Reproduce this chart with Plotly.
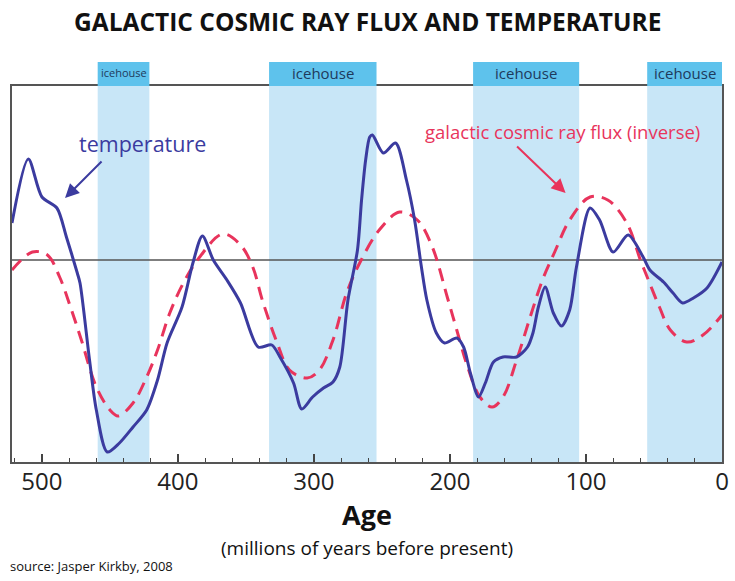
import plotly.graph_objects as go

# Age in millions of years before present; values in relative units (0 = reference line)
temp_age = [522, 510, 500, 489, 482, 474, 472, 465, 460, 452, 443, 433, 423, 415, 408, 397, 389, 382,
            374, 364, 354, 341, 331, 325, 315, 309, 301, 293, 286, 281, 275, 268, 265, 262, 259, 257,
            249, 240, 232, 226, 221, 217, 210, 204, 195, 190, 185, 179, 174, 168, 161, 151, 143, 139,
            135, 130, 124, 118, 112, 107, 97, 90, 80, 69, 58, 53, 43, 36, 29, 21, 11, 0]
temp_val = [37, 101, 63, 52, 23, -13, -23, -100, -150, -192, -183, -167, -150, -120, -83, -47, -3, 24,
            0, -20, -43, -87, -85, -97, -123, -149, -137, -128, -122, -107, -40, 10, 60, 100, 123, 125,
            107, 117, 80, 40, -7, -40, -73, -83, -78, -87, -113, -137, -123, -102, -97, -97, -87, -73,
            -47, -27, -53, -66, -50, -7, 52, 40, 8, 25, 3, -10, -22, -33, -43, -38, -28, -2]

gcr_age = [522, 507, 496, 487, 479, 471, 460, 450, 444, 433, 423, 415, 406, 396, 384, 367, 354, 345,
           338, 327, 318, 305, 296, 286, 276, 266, 252, 237, 224, 213, 202, 195, 187, 178, 169, 161,
           151, 141, 132, 123, 112, 97, 84, 70, 60, 55, 46, 38, 26, 14, 0]
gcr_val = [-10, 8, 5, -17, -47, -80, -127, -150, -156, -143, -117, -90, -53, -23, 3, 26, 15, -7,
           -40, -83, -110, -118, -110, -80, -33, -2, 30, 48, 40, 13, -37, -70, -107, -137, -147, -137,
           -100, -57, -20, 8, 40, 63, 60, 37, 0, -17, -47, -70, -82, -75, -55]

icehouse_start = [459, 333, 183, 55]
icehouse_end = [421, 254, 105, 0]
icehouse_label_size = [11, 15, 15, 15]

tick_vals = [500, 400, 300, 200, 100, 0]
tick_text = ["500", "400", "300", "200", "100", "0"]

TEMP_COLOR = "#3b3b9f"
GCR_COLOR = "#e8345c"
BAND_COLOR = "#c8e6f7"
BOX_COLOR = "#5ec2ec"
FONT = "Open Sans"

fig = go.Figure()

shapes = []
annotations = []
for s, e, fs in zip(icehouse_start, icehouse_end, icehouse_label_size):
    shapes.append(dict(type="rect", xref="x", yref="paper", x0=s, x1=e, y0=0, y1=1,
                       fillcolor=BAND_COLOR, line_width=0, layer="below"))
    shapes.append(dict(type="rect", xref="x", yref="paper", x0=s, x1=e, y0=1.0, y1=1.064,
                       fillcolor=BOX_COLOR, line_width=0, layer="above"))
    annotations.append(dict(x=(s + e) / 2, y=1.035, xref="x", yref="paper", text="icehouse",
                            showarrow=False, font=dict(family=FONT, size=fs, color="#1e3a5c"),
                            yanchor="middle"))

# reference line
shapes.append(dict(type="line", xref="paper", yref="y", x0=0, x1=1, y0=0, y1=0,
                   line=dict(color="#555555", width=1.5), layer="below"))

fig.add_trace(go.Scatter(x=gcr_age, y=gcr_val, mode="lines", line_shape="spline",
                         line=dict(color=GCR_COLOR, width=3, dash="13px,8px", smoothing=1.0),
                         hoverinfo="skip", showlegend=False))
fig.add_trace(go.Scatter(x=temp_age, y=temp_val, mode="lines", line_shape="spline",
                         line=dict(color=TEMP_COLOR, width=3, smoothing=0.8),
                         hoverinfo="skip", showlegend=False))

annotations += [
    dict(x=426, y=117, xref="x", yref="y", text="temperature", showarrow=False,
         font=dict(family=FONT, size=21.5, color=TEMP_COLOR)),
    dict(x=483, y=62, xref="x", yref="y", ax=38, ay=-38, text="", showarrow=True,
         arrowhead=2, arrowsize=1.4, arrowwidth=2, arrowcolor=TEMP_COLOR),
    dict(x=117, y=129, xref="x", yref="y", text="galactic cosmic ray flux (inverse)", showarrow=False,
         font=dict(family=FONT, size=18.5, color=GCR_COLOR)),
    dict(x=115, y=67, xref="x", yref="y", ax=-50, ay=-48, text="", showarrow=True,
         arrowhead=2, arrowsize=1.4, arrowwidth=2, arrowcolor=GCR_COLOR),
    dict(x=0.5, y=(462 - 22) / 376, xref="paper", yref="paper",
         text="<b>GALACTIC COSMIC RAY FLUX AND TEMPERATURE</b>",
         showarrow=False, font=dict(family=FONT, size=24.5, color="#111111"), yanchor="middle"),
    dict(x=0.5, y=(462 - 514) / 376, xref="paper", yref="paper", text="<b>Age</b>", showarrow=False,
         font=dict(family=FONT, size=27, color="#111111"), yanchor="middle"),
    dict(x=0.5, y=(462 - 548) / 376, xref="paper", yref="paper", text="(millions of years before present)",
         showarrow=False, font=dict(family=FONT, size=19, color="#111111"), yanchor="middle"),
    dict(x=-0.006, y=(462 - 566) / 376, xref="paper", yref="paper", text="source: Jasper Kirkby, 2008",
         showarrow=False, xanchor="left", font=dict(family=FONT, size=13, color="#111111"),
         yanchor="middle"),
]

fig.update_layout(
    width=735, height=581,
    margin=dict(l=12, r=13, t=86, b=119, autoexpand=False),
    paper_bgcolor="white", plot_bgcolor="white",
    shapes=shapes, annotations=annotations,
    xaxis=dict(range=[522, 0], showgrid=False, zeroline=False,
               tickvals=tick_vals, ticktext=tick_text, ticks="inside", ticklen=8, tickwidth=1.5,
               tickcolor="#444444", showline=True, linecolor="#555555", linewidth=2, mirror=True,
               tickfont=dict(family=FONT, size=24, color="#222222"), ticklabelstandoff=-3,
               minor=dict(ticks="inside", dtick=20, tick0=0, ticklen=4, tickwidth=1.2, tickcolor="#444444")),
    yaxis=dict(range=[-202, 174], showgrid=False, zeroline=False, showticklabels=False,
               ticks="", showline=True, linecolor="#555555", linewidth=2, mirror=True),
)

fig.write_html("out.html", config={"displayModeBar": False},
               post_script="document.body.style.margin='0px';document.body.style.padding='0px';")
